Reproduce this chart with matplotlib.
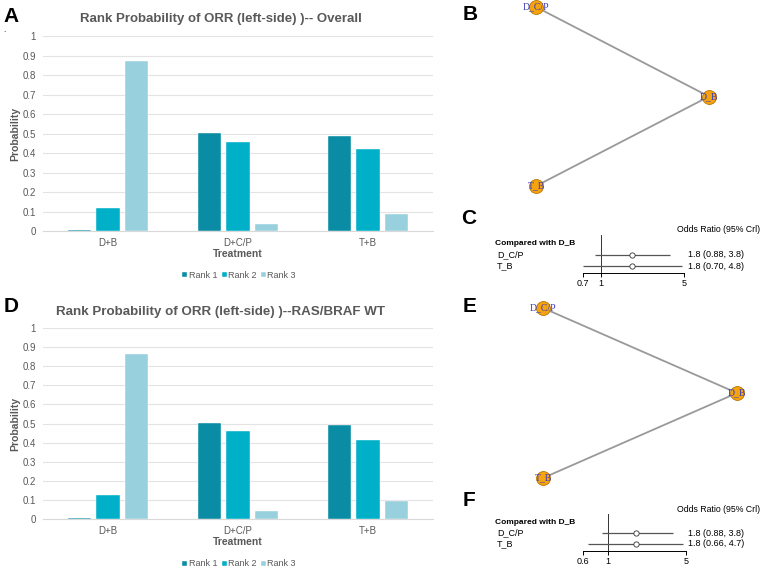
import matplotlib
matplotlib.use("Agg")
import matplotlib.pyplot as plt
from matplotlib.transforms import blended_transform_factory
import numpy as np

plt.rcParams['font.family'] = ['Liberation Sans', 'DejaVu Sans']

W, H = 761, 568

# ---------------- data ----------------
treatments = ["D+B", "D+C/P", "T+B"]
rank_labels = ["Rank 1", "Rank 2", "Rank 3"]
overall_rank1 = [0.007, 0.502, 0.487]
overall_rank2 = [0.117, 0.456, 0.423]
overall_rank3 = [0.874, 0.036, 0.085]
wt_rank1 = [0.007, 0.501, 0.492]
wt_rank2 = [0.127, 0.459, 0.414]
wt_rank3 = [0.866, 0.042, 0.094]
yticks = [0, 0.1, 0.2, 0.3, 0.4, 0.5, 0.6, 0.7, 0.8, 0.9, 1]
ytick_labels = ["0", "0.1", "0.2", "0.3", "0.4", "0.5", "0.6", "0.7", "0.8", "0.9", "1"]

net_nodes = ["D_C/P", "D_B", "T_B"]
net_node_x = [0.0, 1.0, 0.0]
net_node_y = [1.0, 0.5, 0.0]
net_edges = [("D_C/P", "D_B"), ("T_B", "D_B")]

forest_labels = ["D_C/P", "T_B"]
c_or = [1.8, 1.8]
c_lo = [0.88, 0.70]
c_hi = [3.8, 4.8]
c_xticks = [0.7, 1, 5]
c_xticklabels = ["0.7", "1", "5"]
f_or = [1.8, 1.8]
f_lo = [0.88, 0.66]
f_hi = [3.8, 4.7]
f_xticks = [0.6, 1, 5]
f_xticklabels = ["0.6", "1", "5"]

colors = ["#0A8CA5", "#00AFC8", "#98D0DE"]
gray_txt = "#595959"

fig = plt.figure(figsize=(W / 100, H / 100), dpi=100)


def px_axes(left, top, right, bottom):
    return fig.add_axes([left / W, 1 - bottom / H, (right - left) / W, (bottom - top) / H])


def bar_panel(top, bottom, title, title_y, title_size, r1, r2, r3, xlab_y, leg_y):
    ax = px_axes(43, top, 433, bottom)
    x = np.arange(len(treatments))
    off = 0.223
    bw = 0.177
    for i, (vals, c, lab) in enumerate(zip([r1, r2, r3], colors, rank_labels)):
        ax.bar(x + (i - 1) * off, vals, width=bw, color=c, label=lab, zorder=3,
               edgecolor="white", linewidth=0.3)
    ax.set_xlim(-0.5, 2.5)
    ax.set_ylim(0, 1)
    ax.set_yticks(yticks)
    ax.set_yticklabels(ytick_labels)
    ax.set_xticks(x)
    ax.set_xticklabels(treatments)
    ax.tick_params(axis="both", length=0, labelsize=7, labelcolor=gray_txt)
    ax.tick_params(axis="y", pad=5)
    ax.tick_params(axis="x", pad=5)
    for s in ["top", "right", "left"]:
        ax.spines[s].set_visible(False)
    ax.spines["bottom"].set_color("#D9D9D9")
    ax.grid(axis="y", color="#E3E3E3", linewidth=0.8, zorder=0)
    ax.set_ylabel("Probability", fontsize=7.5, fontweight="bold", color=gray_txt)
    ax.yaxis.set_label_coords((20 - 43) / 390, 0.5)
    fig.text(238 / W, 1 - xlab_y / H, "Treatment", fontsize=7.5, fontweight="bold",
             color=gray_txt, ha="center", va="center")
    fig.text(221 / W, 1 - title_y / H, title, fontsize=title_size, fontweight="bold",
             color=gray_txt, ha="center", va="center")
    leg = ax.legend(loc="center", bbox_to_anchor=(239 / W, 1 - leg_y / H),
                    bbox_transform=fig.transFigure, ncol=3, frameon=False,
                    fontsize=6.5, handlelength=0.55, handleheight=0.55, handletextpad=0.15,
                    columnspacing=0.5)
    for t in leg.get_texts():
        t.set_color(gray_txt)
    return ax


bar_panel(36, 231, "Rank Probability of ORR (left-side) )-- Overall", 19, 9.5,
          overall_rank1, overall_rank2, overall_rank3, 254, 275)
bar_panel(328, 519, "Rank Probability of ORR (left-side) )--RAS/BRAF WT", 312, 9.6,
          wt_rank1, wt_rank2, wt_rank3, 542, 564)


def network_panel(x0, y0, x1, y1):
    # (x0,y0) pixel of layout (0,0); (x1,y1) pixel of layout (1,1)
    ax = px_axes(x0, y1, x1, y0)
    ax.set_xlim(0, 1)
    ax.set_ylim(0, 1)
    ax.axis("off")
    pos = {n: (xx, yy) for n, xx, yy in zip(net_nodes, net_node_x, net_node_y)}
    for a, b in net_edges:
        ax.plot([pos[a][0], pos[b][0]], [pos[a][1], pos[b][1]], color="#999999",
                linewidth=1.3, zorder=1, clip_on=False)
    ax.scatter(net_node_x, net_node_y, s=100, color="#F5A30F", edgecolor="#B87400",
               linewidth=0.6, zorder=2, clip_on=False)
    for n, xx, yy in zip(net_nodes, net_node_x, net_node_y):
        ax.text(xx, yy, n, ha="center", va="center", fontsize=7, color="#3A3AC0",
                family=["Liberation Serif", "DejaVu Serif"], zorder=3, clip_on=False)
    return ax


network_panel(536, 186, 709, 7)
network_panel(543, 478, 737, 308)


def forest_panel(left, right, top, bottom, row_px, or_, lo, hi, xt, xtl, xmin, xmax,
                 title_y, label_x, val_x):
    # row_px: pixel y of header row (0), row 1, row 2
    ax = px_axes(left, top, right, bottom)
    ax.set_xscale("log")
    ax.set_xlim(xmin, xmax)
    step = (row_px[2] - row_px[0]) / 2.0
    ax.set_ylim((bottom - row_px[0]) / step, (top - row_px[0]) / step)
    for s in ["top", "right", "left"]:
        ax.spines[s].set_visible(False)
    ax.spines["bottom"].set_bounds(xmin, xmax)
    ax.spines["bottom"].set_linewidth(0.7)
    ax.set_yticks([])
    ax.set_xticks(xt)
    ax.set_xticklabels(xtl)
    ax.minorticks_off()
    ax.tick_params(axis="x", length=3, width=0.7, labelsize=6.5, pad=1)
    ax.axvline(1, color="#333333", linewidth=0.7)
    rows = np.arange(1, len(forest_labels) + 1)
    ax.hlines(rows, lo, hi, color="#555555", linewidth=0.9, clip_on=False)
    ax.plot(or_, rows, "o", markerfacecolor="white", markeredgecolor="#333333",
            markersize=3.8, markeredgewidth=0.6, clip_on=False, zorder=3)
    tr = blended_transform_factory(fig.transFigure, ax.transData)
    ax.text(label_x / W, 0, "Compared with D_B", transform=tr, fontsize=6,
            fontweight="bold", va="center", ha="left")
    for r, lab, o, l, h in zip(rows, forest_labels, or_, lo, hi):
        ax.text((label_x + 2) / W, r, lab, transform=tr, fontsize=6.5, va="center", ha="left")
        ax.text(val_x / W, r, f"{o:.1f} ({l:.2f}, {h:.1f})", transform=tr, fontsize=6.5,
                va="center", ha="left")
    fig.text(760 / W, 1 - title_y / H, "Odds Ratio (95% Crl)", fontsize=6.3,
             ha="right", va="center")
    return ax


forest_panel(583, 684, 235, 273, [243, 254.5, 266], c_or, c_lo, c_hi, c_xticks, c_xticklabels,
             0.7, 5, 229, 495, 688)
forest_panel(583, 686, 514, 551, [522, 533, 544], f_or, f_lo, f_hi, f_xticks, f_xticklabels,
             0.6, 5, 509, 495, 688)

# panel letters
for lab, (x, y) in zip("ABCDEF", [(11, 16), (470, 15), (469, 219), (11, 307), (470, 307), (469, 500)]):
    fig.text(x / W, 1 - y / H, lab, fontsize=15, fontweight="bold", ha="center", va="center")
fig.text(3 / W, 1 - 31 / H, ".", fontsize=6, ha="left", va="center")

fig.savefig("out.png", dpi=100)
